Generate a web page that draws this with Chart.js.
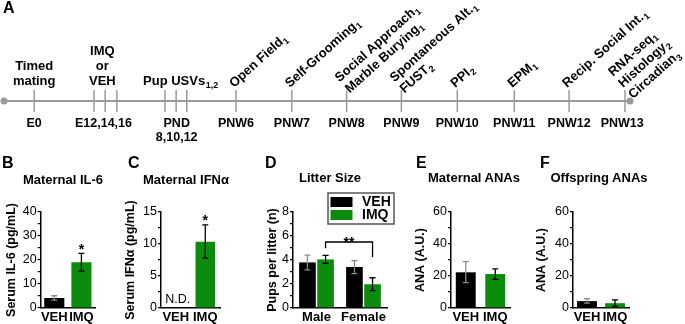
<!DOCTYPE html>
<html lang="en">
<head>
<meta charset="UTF-8">
<script src="https://cdn.jsdelivr.net/npm/chart.js"></script>
<title>MIA timeline and maternal measures</title>
<style>
    body {
        margin: 0;
        background: #fff;
        font-family: "Liberation Sans", Arial, sans-serif;
    }
    #fig {
        position: relative;
        width: 685px;
        height: 324px;
        overflow: hidden;
    }
    canvas {
        position: absolute;
    }
    .letter {
        position: absolute;
        font-weight: bold;
        font-size: 16px;
        line-height: 16px;
    }
    .ptitle {
        position: absolute;
        font-weight: bold;
        font-size: 13px;
        line-height: 16px;
        white-space: nowrap;
        transform: translateX(-50%);
    }
</style>
</head>
<body>
<div id="fig">
    <canvas id="cA" width="685" height="160" style="left:0;top:0"></canvas>
    <canvas id="cB" width="95" height="134" style="left:4px;top:190px"></canvas>
    <canvas id="cC" width="101" height="134" style="left:123px;top:190px"></canvas>
    <canvas id="cD" width="132" height="134" style="left:265px;top:190px"></canvas>
    <canvas id="cE" width="101" height="134" style="left:413px;top:190px"></canvas>
    <canvas id="cF" width="99" height="134" style="left:534px;top:190px"></canvas>

    <div class="letter" style="left:3px;top:0">A</div>
    <div class="letter" style="left:2px;top:155px">B</div>
    <div class="letter" style="left:128px;top:155px">C</div>
    <div class="letter" style="left:265px;top:155px">D</div>
    <div class="letter" style="left:416px;top:155px">E</div>
    <div class="letter" style="left:540px;top:155px">F</div>

    <div class="ptitle" style="left:63px;top:172px">Maternal IL-6</div>
    <div class="ptitle" style="left:186px;top:172px">Maternal IFN&alpha;</div>
    <div class="ptitle" style="left:330px;top:170px">Litter Size</div>
    <div class="ptitle" style="left:474px;top:170px">Maternal ANAs</div>
    <div class="ptitle" style="left:599px;top:170px">Offspring ANAs</div>
</div>

<script>
    // ---- panel A: timeline (schematic units, 1 unit ~ 1 week slot) ----
    const tlStart = -0.54;
    const tlEnd = 10.66;
    const tlTicks = [0, 1.07, 1.27, 1.48, 2.34, 2.54, 2.73, 3.61, 4.61, 5.59, 6.57, 7.57, 8.59, 9.57, 10.57];
    const belowLabels = ['E0', 'E12,14,16', 'PND|8,10,12', 'PNW6', 'PNW7', 'PNW8', 'PNW9', 'PNW10', 'PNW11', 'PNW12', 'PNW13'];
    const belowPos = [0, 1.24, 2.55, 3.61, 4.61, 5.59, 6.57, 7.57, 8.59, 9.57, 10.52];
    const flatLabels = ['Timed|mating', 'IMQ|or|VEH', 'Pup USVs_1,2'];
    const flatPos = [0, 1.22, 2.62];
    const slantLabels = [
        'Open Field_1',
        'Self-Grooming_1',
        'Social Approach_1|Marble Burying_1',
        'Spontaneous Alt._1|FUST_2',
        'PPI_2',
        'EPM_1',
        'Recip. Social Int._1',
        'RNA-seq_1|Histology_2|Circadian_3'
    ];
    const slantPos = [3.61, 4.61, 5.59, 6.57, 7.57, 8.59, 9.57, 10.57];

    // ---- panels B-F ----
    const groups = ['VEH', 'IMQ'];
    const sexes = ['Male', 'Female'];

    const il6Mean = [4.2, 19.1];
    const il6Lo = [3.3, 15.4];
    const il6Hi = [5.1, 22.8];

    const ifnMean = [null, 10.35];
    const ifnLo = [null, 7.8];
    const ifnHi = [null, 13.0];

    const litterVeh = [3.8, 3.42];
    const litterVehLo = [3.17, 2.87];
    const litterVehHi = [4.4, 3.95];
    const litterImq = [4.05, 1.98];
    const litterImqLo = [3.72, 1.45];
    const litterImqHi = [4.38, 2.52];
    const litterBracket = [5.5, 4.97, 4.25]; // top, left end, right end

    const matAnaMean = [22.3, 21.2];
    const matAnaLo = [15.8, 17.9];
    const matAnaHi = [29.0, 24.4];

    const offAnaMean = [4.3, 3.0];
    const offAnaLo = [3.0, 1.0];
    const offAnaHi = [5.8, 5.1];

    const BLACK = '#000000';
    const GREEN = '#0c8c0c';
    const GREY = '#8a8a8a';
    const FONT = '"Liberation Sans", Arial, sans-serif';

    // text with an optional subscript after "_"
    function drawRich(ctx, line, x, y, size, align) {
        const parts = line.split('_');
        const main = parts[0], sub = parts[1];
        const subSize = Math.round(size * 0.66);
        ctx.font = `bold ${size}px ${FONT}`;
        const w1 = ctx.measureText(main).width;
        let w2 = 0;
        if (sub) {
            ctx.font = `bold ${subSize}px ${FONT}`;
            w2 = ctx.measureText(sub).width + 0.5;
        }
        const x0 = align === 'center' ? x - (w1 + w2) / 2 : x;
        ctx.textAlign = 'left';
        ctx.textBaseline = 'alphabetic';
        ctx.font = `bold ${size}px ${FONT}`;
        ctx.fillText(main, x0, y);
        if (sub) {
            ctx.font = `bold ${subSize}px ${FONT}`;
            ctx.fillText(sub, x0 + w1 + 0.5, y + 3);
        }
    }

    const timelineText = {
        id: 'timelineText',
        afterDraw(chart) {
            const ctx = chart.ctx;
            const xs = chart.scales.x;
            const y0 = chart.scales.y.getPixelForValue(0);
            ctx.save();
            ctx.fillStyle = '#000';
            belowLabels.forEach((lab, i) => {
                const x = xs.getPixelForValue(belowPos[i]);
                lab.split('|').forEach((ln, k) => drawRich(ctx, ln, x, y0 + 25.5 + k * 14, 12.5, 'center'));
            });
            flatLabels.forEach((lab, i) => {
                const x = xs.getPixelForValue(flatPos[i]);
                const lines = lab.split('|');
                lines.forEach((ln, k) => drawRich(ctx, ln, x, y0 - 16.5 - (lines.length - 1 - k) * 15, 13, 'center'));
            });
            slantLabels.forEach((lab, i) => {
                const x = xs.getPixelForValue(slantPos[i]);
                const lines = lab.split('|');
                ctx.save();
                ctx.translate(x - 2, y0 - 13);
                ctx.rotate(-42 * Math.PI / 180);
                lines.forEach((ln, k) => drawRich(ctx, ln, 0, (k - (lines.length - 1) / 2) * 15, 13, 'left'));
                ctx.restore();
            });
            ctx.restore();
        }
    };

    const tickSets = tlTicks.map(v => ({
        data: [{x: v, y: -1}, {x: v, y: 1}],
        showLine: true,
        borderColor: '#9a9a9a',
        borderWidth: 1.5,
        pointRadius: 0,
        clip: false
    }));

    new Chart(document.getElementById('cA'), {
        type: 'scatter',
        data: {
            datasets: [{
                data: [{x: tlStart, y: 0}, {x: tlEnd, y: 0}],
                showLine: true,
                borderColor: '#9a9a9a',
                borderWidth: 2,
                pointRadius: 3.5,
                pointBackgroundColor: '#9a9a9a',
                pointBorderWidth: 0,
                clip: false
            }].concat(tickSets)
        },
        options: {
            responsive: false,
            animation: false,
            layout: {padding: {left: 3, right: 55, top: 90, bottom: 48}},
            plugins: {legend: {display: false}, tooltip: {enabled: false}},
            scales: {
                x: {type: 'linear', min: tlStart, max: tlEnd, display: false},
                y: {min: -1, max: 1, display: false}
            }
        },
        plugins: [timelineText]
    });

    // error bars, stars, N.D., bracket and legend
    const errorBars = {
        id: 'errorBars',
        afterDatasetsDraw(chart) {
            const ctx = chart.ctx;
            const ys = chart.scales.y;
            chart.data.datasets.forEach((ds, di) => {
                const meta = chart.getDatasetMeta(di);
                meta.data.forEach((bar, i) => {
                    if (ds.data[i] == null) return;
                    const x = bar.x;
                    const top = ys.getPixelForValue(ds.errHi[i]);
                    const bot = ys.getPixelForValue(ds.errLo[i]);
                    ctx.save();
                    ctx.strokeStyle = Array.isArray(ds.errColor) ? ds.errColor[i] : ds.errColor;
                    ctx.lineWidth = 1.3;
                    ctx.beginPath();
                    ctx.moveTo(x, top); ctx.lineTo(x, bot);
                    ctx.moveTo(x - 3, top); ctx.lineTo(x + 3, top);
                    ctx.moveTo(x - 3, bot); ctx.lineTo(x + 3, bot);
                    ctx.stroke();
                    ctx.restore();
                });
            });
            const notes = chart.options.plugins.notes || {};
            ctx.save();
            ctx.fillStyle = '#000';
            ctx.textAlign = 'center';
            ctx.textBaseline = 'alphabetic';
            (notes.stars || []).forEach(([di, i]) => {
                const ds = chart.data.datasets[di];
                const bar = chart.getDatasetMeta(di).data[i];
                ctx.font = `bold 14px ${FONT}`;
                ctx.fillText('*', bar.x, ys.getPixelForValue(ds.errHi[i]) + 0.5);
            });
            (notes.nd || []).forEach(i => {
                const x = chart.scales.x.getPixelForValue(i);
                ctx.font = `12.5px ${FONT}`;
                ctx.fillText('N.D.', x + 2, ys.getPixelForValue(0) - 5);
            });
            if (notes.bracket) {
                const b = notes.bracket;
                const x1 = chart.getDatasetMeta(b.from[0]).data[b.from[1]].x;
                const x2 = chart.getDatasetMeta(b.to[0]).data[b.to[1]].x;
                const yt = ys.getPixelForValue(b.levels[0]);
                ctx.strokeStyle = '#000';
                ctx.lineWidth = 1.3;
                ctx.beginPath();
                ctx.moveTo(x1, ys.getPixelForValue(b.levels[1]));
                ctx.lineTo(x1, yt);
                ctx.lineTo(x2, yt);
                ctx.lineTo(x2, ys.getPixelForValue(b.levels[2]));
                ctx.stroke();
                ctx.font = `bold 14px ${FONT}`;
                ctx.fillText('**', (x1 + x2) / 2, yt + 4.5);
            }
            if (notes.legend) {
                const area = chart.chartArea;
                const left = area.right - 59, top = area.top - 19;
                ctx.strokeStyle = '#555';
                ctx.lineWidth = 1.5;
                ctx.strokeRect(left, top, 66, 31);
                ctx.textAlign = 'left';
                ctx.textBaseline = 'middle';
                ctx.font = `bold 14px ${FONT}`;
                chart.data.datasets.forEach((ds, di) => {
                    ctx.fillStyle = ds.backgroundColor;
                    ctx.fillRect(left + 2.5, top + 4 + di * 13, 22, 10);
                    ctx.fillStyle = '#000';
                    ctx.fillText(ds.label, left + 34, top + 9.5 + di * 13);
                });
            }
            ctx.restore();
        }
    };

    function barPanel(id, cfg) {
        return new Chart(document.getElementById(id), {
            type: 'bar',
            data: {labels: cfg.labels, datasets: cfg.datasets},
            options: {
                responsive: false,
                animation: false,
                layout: {padding: {top: 22, right: cfg.padRight, left: 0, bottom: 0}},
                datasets: {bar: {categoryPercentage: cfg.catPct, barPercentage: cfg.barPct, borderWidth: 0}},
                plugins: {
                    legend: {display: false},
                    tooltip: {enabled: false},
                    notes: cfg.notes
                },
                scales: {
                    x: {
                        grid: {display: false, drawTicks: false},
                        border: {color: '#000', width: 1.5},
                        ticks: {
                            color: '#000',
                            autoSkip: false,
                            maxRotation: 0,
                            minRotation: 0,
                            padding: 2,
                            font: {family: FONT, weight: 'bold', size: 13}
                        },
                        afterFit: s => { s.height = 16; }
                    },
                    y: {
                        min: 0,
                        max: cfg.max,
                        ticks: {
                            stepSize: cfg.minor,
                            autoSkip: false,
                            color: '#000',
                            padding: 1,
                            font: {family: FONT, size: 12.5},
                            callback: v => (v % cfg.major === 0 ? v : '')
                        },
                        grid: {drawOnChartArea: false, tickLength: 3, color: '#000', lineWidth: 1.2},
                        border: {color: '#000', width: 1.5},
                        title: {
                            display: true,
                            text: cfg.yTitle,
                            color: '#000',
                            padding: 0,
                            font: {family: FONT, weight: 'bold', size: 12.5}
                        },
                        afterFit: s => { s.width = cfg.yWidth; }
                    }
                }
            },
            plugins: [errorBars]
        });
    }

    barPanel('cB', {
        labels: groups,
        datasets: [{data: il6Mean, errLo: il6Lo, errHi: il6Hi, backgroundColor: [BLACK, GREEN], errColor: [GREY, BLACK]}],
        max: 40, minor: 5, major: 10, yTitle: 'Serum IL-6 (pg/mL)',
        yWidth: 36.7, padRight: 4, catPct: 1, barPct: 0.74,
        notes: {stars: [[0, 1]]}
    });

    barPanel('cC', {
        labels: groups,
        datasets: [{data: ifnMean, errLo: ifnLo, errHi: ifnHi, backgroundColor: [BLACK, GREEN], errColor: [GREY, BLACK]}],
        max: 15, minor: 2.5, major: 5, yTitle: 'Serum IFN\u03B1 (pg/mL)',
        yWidth: 38, padRight: 4, catPct: 1, barPct: 0.66,
        notes: {stars: [[0, 1]], nd: [0]}
    });

    barPanel('cD', {
        labels: sexes,
        datasets: [
            {label: 'VEH', data: litterVeh, errLo: litterVehLo, errHi: litterVehHi, backgroundColor: BLACK, errColor: GREY},
            {label: 'IMQ', data: litterImq, errLo: litterImqLo, errHi: litterImqHi, backgroundColor: GREEN, errColor: BLACK}
        ],
        max: 8, minor: 1, major: 2, yTitle: 'Pups per litter (n)',
        yWidth: 28, padRight: 10, catPct: 0.77, barPct: 0.92,
        notes: {bracket: {from: [1, 0], to: [1, 1], levels: litterBracket}, legend: true}
    });

    barPanel('cE', {
        labels: groups,
        datasets: [{data: matAnaMean, errLo: matAnaLo, errHi: matAnaHi, backgroundColor: [BLACK, GREEN], errColor: [GREY, BLACK]}],
        max: 60, minor: 10, major: 20, yTitle: 'ANA (A.U.)',
        yWidth: 38, padRight: 4, catPct: 1, barPct: 0.675,
        notes: {}
    });

    barPanel('cF', {
        labels: groups,
        datasets: [{data: offAnaMean, errLo: offAnaLo, errHi: offAnaHi, backgroundColor: [BLACK, GREEN], errColor: [GREY, BLACK]}],
        max: 60, minor: 10, major: 20, yTitle: 'ANA (A.U.)',
        yWidth: 39, padRight: 4, catPct: 1, barPct: 0.71,
        notes: {}
    });
</script>
</body>
</html>
